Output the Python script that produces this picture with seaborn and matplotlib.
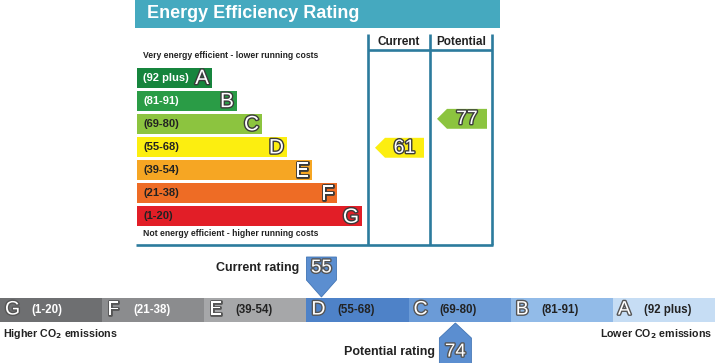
import numpy as np
import matplotlib
matplotlib.use('Agg')
import matplotlib.pyplot as plt
import matplotlib.patheffects as pe
from matplotlib.patches import Polygon, Rectangle
from matplotlib import transforms
import seaborn as sns

sns.set_theme(style='white')
plt.rcParams['font.family'] = ['Liberation Sans', 'DejaVu Sans']

# energy efficiency bands (top chart)
bands = ['A', 'B', 'C', 'D', 'E', 'F', 'G']
band_ranges = ['(92 plus)', '(81-91)', '(69-80)', '(55-68)', '(39-54)', '(21-38)', '(1-20)']
band_lo = [92, 81, 69, 55, 39, 21, 1]
band_hi = [100, 91, 80, 68, 54, 38, 20]
current_eer = 61
potential_eer = 77

# CO2 strip (bottom), worst to best
co2_bands = ['G', 'F', 'E', 'D', 'C', 'B', 'A']
co2_ranges = ['(1-20)', '(21-38)', '(39-54)', '(55-68)', '(69-80)', '(81-91)', '(92 plus)']
co2_lo = [1, 21, 39, 55, 69, 81, 92]
co2_hi = [20, 38, 54, 68, 80, 91, 100]
current_co2 = 55
potential_co2 = 74

# styles
W, H = 715, 363
bar_len = [75, 100, 125, 150, 175, 200, 225]  # px, each band a step longer
band_colors = ['#16853d', '#2a9c46', '#8cc43f', '#fcee10', '#f6a623', '#ee6c25', '#e21e27']
band_txt = ['white', 'white', '#222222', '#222222', '#222222', '#222222', '#222222']
co2_colors = ['#6e6f71', '#8b8c8e', '#a6a7a9', '#4e82c8', '#6b9bd7', '#92bbe8', '#c6ddf4']
co2_txt = ['white', 'white', '#222222', '#222222', '#222222', '#222222', '#222222']
teal = '#45a9bf'
line_c = '#2c7b9d'
marker_c = '#5b8ed0'
outline = [pe.withStroke(linewidth=2, foreground='#3a3a3a')]
outline_grey = [pe.withStroke(linewidth=2, foreground='#555555')]


def fig_rect(x0, y0, x1, y1):
    # pixel box (top-left origin) -> figure fraction rect
    return [x0 / W, 1 - y1 / H, (x1 - x0) / W, (y1 - y0) / H]


def band_index(v, lo, hi):
    for i in range(len(lo)):
        if lo[i] <= v <= hi[i]:
            return i
    return 0


fig = plt.figure(figsize=(W / 100, H / 100), dpi=100)

# rating bars
ax_bars = fig.add_axes(fig_rect(137, 66, 362, 228))
sns.barplot(x=bar_len, y=bands, hue=bands, palette=band_colors, orient='h',
            width=0.87, saturation=1, legend=False, linewidth=0, ax=ax_bars)
ax_bars.set_xlim(0, 225)
ax_bars.set_ylim(6.5, -0.5)
ax_bars.axis('off')
for i, b in enumerate(bands):
    ax_bars.text(6, i, band_ranges[i], color=band_txt[i], fontsize=8,
                 fontweight='bold', va='center', ha='left')
    ax_bars.text(bar_len[i] - 3, i + 0.04, b, color='white', fontsize=15,
                 va='center', ha='right', path_effects=outline)

# CO2 strip
ax_co2 = fig.add_axes(fig_rect(0, 298, 715, 322))
sns.barplot(x=co2_bands, y=[1] * len(co2_bands), hue=co2_bands, palette=co2_colors,
            width=1, saturation=1, legend=False, linewidth=0, ax=ax_co2)
ax_co2.set_xlim(-0.5, 6.5)
ax_co2.set_ylim(0, 1)
ax_co2.axis('off')
seg_px = W / 7
for i, b in enumerate(co2_bands):
    ax_co2.text(i - 0.5 + 5 / seg_px, 0.5, b, color='white', fontsize=14,
                va='center', ha='left', path_effects=outline_grey)
    ax_co2.text(i - 0.5 + 31 / seg_px, 0.5, co2_ranges[i], color=co2_txt[i],
                fontsize=8.3, fontweight='bold', va='center', ha='left')

# overlay in pixel coordinates
ax = fig.add_axes([0, 0, 1, 1])
ax.set_xlim(0, W)
ax.set_ylim(H, 0)
ax.axis('off')

ax.add_patch(Rectangle((135, 0), 365, 27.5, color=teal, lw=0))
ax.text(147, 14, 'Energy Efficiency Rating', color='white', fontsize=13,
        fontweight='bold', va='center', ha='left')
ax.vlines([368, 430, 492], 34, 245, color=line_c, lw=1.9)
ax.hlines(50, 368, 492, color=line_c, lw=1.9)
ax.hlines(245, 136, 493, color=line_c, lw=1.9)
ax.text(399, 42, 'Current', fontsize=8.5, fontweight='bold', ha='center', va='center', color='#222222')
ax.text(461, 42, 'Potential', fontsize=8.5, fontweight='bold', ha='center', va='center', color='#222222')
ax.text(143, 56, 'Very energy efficient - lower running costs', fontsize=6.2,
        fontweight='bold', ha='left', va='center', color='#222222')
ax.text(143, 234, 'Not energy efficient - higher running costs', fontsize=6.2,
        fontweight='bold', ha='left', va='center', color='#222222')

# EER arrows: x in pixels, y along the band rows
blend_top = transforms.blended_transform_factory(ax.transData, ax_bars.transData)
mids = [(lo + hi) / 2 for lo, hi in zip(band_lo, band_hi)]
rows = np.arange(len(bands))
for val, (tip, x0, x1) in [(current_eer, (375, 385, 424)), (potential_eer, (437, 447, 487))]:
    yc = np.interp(val, mids[::-1], rows[::-1])
    hh = 0.43
    k = band_index(val, band_lo, band_hi)
    ax.add_patch(Polygon([(tip, yc), (x0, yc - hh), (x1, yc - hh), (x1, yc + hh), (x0, yc + hh)],
                         closed=True, color=band_colors[k], lw=0, transform=blend_top, clip_on=False))
    ax.text((x0 + x1) / 2, yc + 0.03, str(val), color='white', fontsize=14, ha='center',
            va='center', transform=blend_top, path_effects=outline)

# CO2 markers: x along the strip, y in pixels
blend_bot = transforms.blended_transform_factory(ax_co2.transData, ax.transData)


def strip_pos(v, half):
    k = band_index(v, co2_lo, co2_hi)
    p = k - 0.5 + (v - co2_lo[k] + 0.5) / (co2_hi[k] - co2_lo[k] + 1)
    return min(max(p, k - 0.5 + half), k + 0.5 - half)


hw = 15 / seg_px
c = strip_pos(current_co2, hw)
ax.add_patch(Polygon([(c - hw, 257), (c + hw, 257), (c + hw, 280), (c, 297), (c - hw, 280)],
                     closed=True, facecolor=marker_c, edgecolor='#4275b5', lw=0.6,
                     transform=blend_bot, clip_on=False))
ax.text(c, 268, str(current_co2), color='white', fontsize=13.5, ha='center', va='center',
        transform=blend_bot, path_effects=outline_grey)
ax.annotate('Current rating', xy=(c - hw, 268), xycoords=blend_bot, xytext=(-5, 0),
            textcoords='offset points', ha='right', va='center', fontsize=9,
            fontweight='bold', color='#222222')

hw2 = 16 / seg_px
c2 = strip_pos(potential_co2, hw2)
ax.add_patch(Polygon([(c2, 323), (c2 + hw2, 338), (c2 + hw2, 366), (c2 - hw2, 366), (c2 - hw2, 338)],
                     closed=True, facecolor=marker_c, edgecolor='#4275b5', lw=0.6,
                     transform=blend_bot, clip_on=False))
ax.text(c2, 352, str(potential_co2), color='white', fontsize=13.5, ha='center', va='center',
        transform=blend_bot, path_effects=outline_grey)
ax.annotate('Potential rating', xy=(c2 - hw2, 352), xycoords=blend_bot, xytext=(-3, 0),
            textcoords='offset points', ha='right', va='center', fontsize=9,
            fontweight='bold', color='#222222')

ax.text(3, 334, r'Higher CO$_\mathbf{2}$ emissions', fontsize=7.7, fontweight='bold',
        ha='left', va='center', color='#222222')
ax.text(712, 334, r'Lower CO$_\mathbf{2}$ emissions', fontsize=7.7, fontweight='bold',
        ha='right', va='center', color='#222222')

fig.savefig('out.png', dpi=100)
